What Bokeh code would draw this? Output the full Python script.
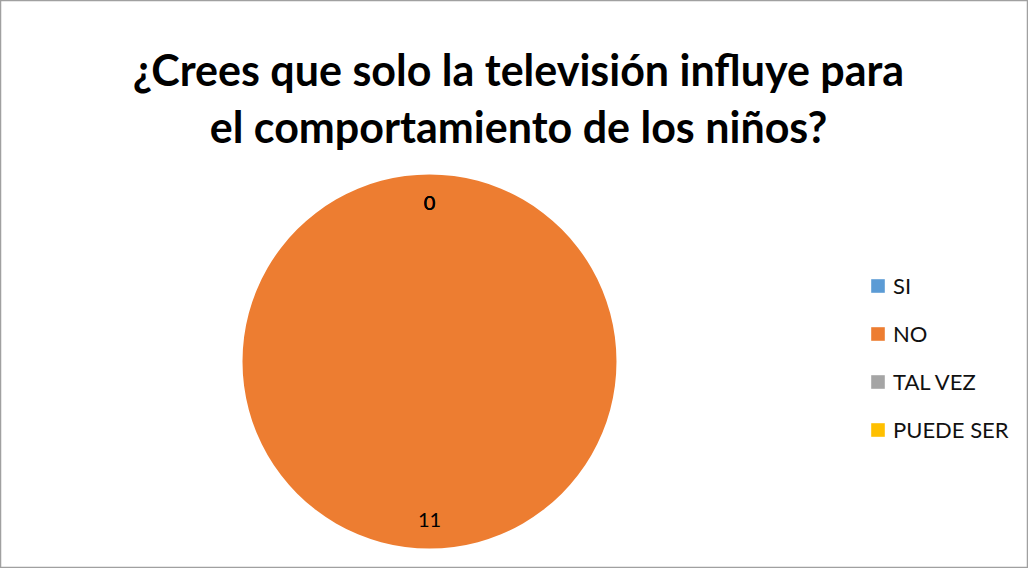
import numpy as np
from bokeh.plotting import figure
from bokeh.models import Range1d, ColumnDataSource, Legend, LegendItem, CDSView, BooleanFilter
from bokeh.core.properties import value
from bokeh.embed import file_html
from bokeh.resources import INLINE

categories = ["SI", "NO", "TAL VEZ", "PUEDE SER"]
counts = [0, 11, 0, 0]
colors = ["#5B9BD5", "#ED7D31", "#A5A5A5", "#FFC000"]
title_lines = ["¿Crees que solo la televisión influye para", "el comportamiento de los niños?"]

W, H = 1028, 568
p = figure(width=W, height=H, output_backend="svg", toolbar_location=None,
           x_range=Range1d(0, W), y_range=Range1d(0, H), min_border=0)
p.axis.visible = False
p.grid.visible = False
p.outline_line_color = "#A0A0A0"
p.outline_line_width = 1.5
p.background_fill_color = "white"

cx, cy, r = 429, 207, 187
total = sum(counts)
fr = np.array(counts) / total
ends_cw = np.cumsum(fr) * 2 * np.pi
starts_cw = ends_cw - fr * 2 * np.pi
sweep = np.minimum(ends_cw - starts_cw, 2 * np.pi - 1e-4)
# clockwise from 12 o'clock -> bokeh ccw from +x
end_angle = np.pi / 2 - starts_cw
start_angle = end_angle - sweep
mid_cw = (starts_cw + ends_cw) / 2
lr = 0.85 * r
lx = cx + lr * np.sin(mid_cw)
ly = cy + lr * np.cos(mid_cw)

src = ColumnDataSource(dict(cat=categories, val=counts, color=colors,
                            sa=start_angle, ea=end_angle,
                            lx=lx, ly=ly, lab=[str(v) for v in counts]))
nonzero = CDSView(filter=BooleanFilter([v > 0 for v in counts]))
p.wedge(x=cx, y=cy, radius=r, start_angle="sa", end_angle="ea",
        fill_color="color", line_color=None, source=src, view=nonzero)

p.text(x="lx", y="ly", text="lab", source=src, text_align="center",
       text_baseline="middle", text_font=value("Lato"), text_font_size="20px",
       text_color="black")

p.text(x=[518, 518], y=[499, 442], text=title_lines, text_align="center",
       text_baseline="alphabetic", text_font=value("Lato"), text_font_style="bold",
       text_font_size="43px", text_color="black")

# hidden renderer that only supplies the legend swatches
leg_src = ColumnDataSource(dict(l=[0] * 4, r=[1] * 4, b=[0] * 4, t=[1] * 4, color=colors))
q = p.quad(left="l", right="r", bottom="b", top="t", fill_color="color",
           line_color=None, source=leg_src, visible=False)

items = [LegendItem(label=c, renderers=[q], index=i) for i, c in enumerate(categories)]
legend = Legend(items=items, location=(869, 125), orientation="vertical",
                glyph_width=17, glyph_height=17, spacing=21, padding=0,
                label_text_font="Lato", label_text_font_size="22px",
                label_text_color="#111111",
                label_height=13, label_text_baseline="middle",
                label_standoff=7, border_line_color=None,
                background_fill_alpha=0, click_policy="none")
p.add_layout(legend)

open("out.html", "w").write(file_html(p, INLINE))
